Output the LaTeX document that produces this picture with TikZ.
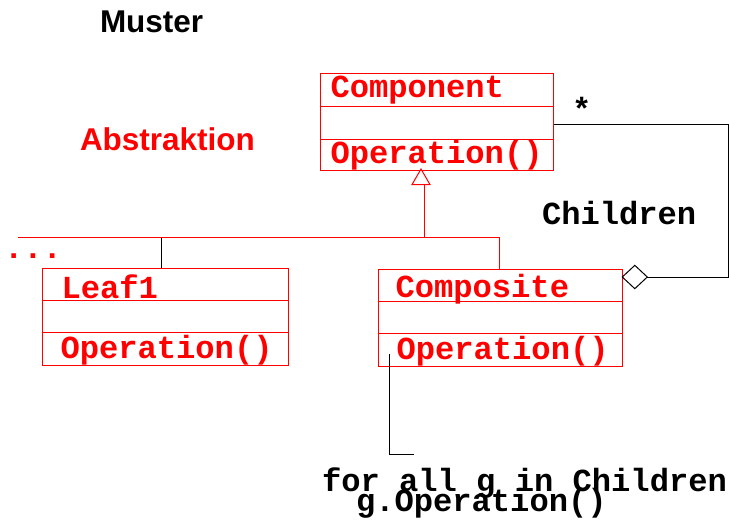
\documentclass[tikz,border=0pt]{standalone}
\usepackage{fontspec}
\setmainfont{Liberation Sans}
\newfontfamily\cour{Liberation Mono}
\usetikzlibrary{shapes.geometric}
\tikzset{
  every node/.style={inner sep=0pt, outer sep=0pt},
  umlbox/.style={draw=red, line width=0.75pt, rectangle, minimum height=72.75pt},
  codetxt/.style={font=\cour\bfseries\fontsize{24.1pt}{15pt}\selectfont, anchor=base west},
  redcode/.style={codetxt, text=red},
  sanstitle/.style={font=\bfseries\fontsize{23.6pt}{28pt}\selectfont, anchor=base west},
  redline/.style={draw=red, line width=0.75pt},
  blackline/.style={draw=black, line width=0.75pt},
}
\begin{document}
\begin{tikzpicture}[x=0.75pt, y=-0.75pt]
\useasboundingbox (0,0) rectangle (730,519);

% titles
\node[sanstitle] (muster) at (100,32.5) {Muster};
\node[sanstitle, text=red] (abstr) at (80,150) {Abstraktion};

% Component
\node[umlbox, minimum width=174.75pt] (comp) at (437,121.5) {};
\draw[redline] (320.5,106) -- (553.5,106);
\draw[redline] (320.5,139) -- (553.5,139);
\node[redcode] (compname) at (330.5,97) {Component};
\node[redcode] (compop) at (330.5,163) {Operation()};

% Leaf1
\node[umlbox, minimum width=184.5pt] (leaf) at (165.3,316.8) {};
\draw[redline] (42.3,300.5) -- (288.3,300.5);
\draw[redline] (42.3,332.8) -- (288.3,332.8);
\node[redcode] (leafname) at (61.5,298) {Leaf1};
\node[redcode] (leafop) at (60.5,358) {Operation()};

% Composite
\node[umlbox, minimum width=183pt] (compo) at (500.3,317.5) {};
\draw[redline] (378.3,301.5) -- (622.3,301.5);
\draw[redline] (378.3,333.5) -- (622.3,333.5);
\node[redcode] (componame) at (395.5,297.5) {Composite};
\node[redcode] (compoop) at (396.5,359) {Operation()};

% inheritance
\node[draw=red, line width=0.75pt, isosceles triangle, isosceles triangle apex angle=60,
      shape border rotate=90, minimum width=13.5pt, minimum height=11.5pt, anchor=apex] (tri) at (421,169) {};
\coordinate (bus) at (424,237.7);
\coordinate (busL) at (18,237.7);
\coordinate (busR) at (499.3,237.7);
\draw[redline] (tri.south -| bus) -- (bus);
\draw[redline] (busL) -- (busR) -- (busR |- compo.north);
\draw[blackline] (leaf.north -| 161.6,0) -- (161.6,237.7);
\node[redcode] (dots) at (4,258) {...};

% aggregation
\node[draw=black, line width=0.75pt, diamond, minimum width=18.75pt, minimum height=17.5pt, anchor=west] (dia) at (compo.east |- 0,277) {};
\coordinate (aggR) at (728.3,124.3);
\draw[blackline] (dia.east) -- (aggR |- dia.east) -- (aggR) -- (comp.east |- aggR);
\node[codetxt] (star) at (572,120) {*};
\node[codetxt] (children) at (542,224) {Children};

% note
\coordinate (noteend) at (414,454.3);
\draw[blackline] (389.3,354.3) -- (389.3,454.3) -- (noteend);
\node[codetxt] (note1) at (322,491) {for all g in Children};
\node[codetxt] (note2) at (356,511) {g.Operation()};
\end{tikzpicture}
\end{document}
